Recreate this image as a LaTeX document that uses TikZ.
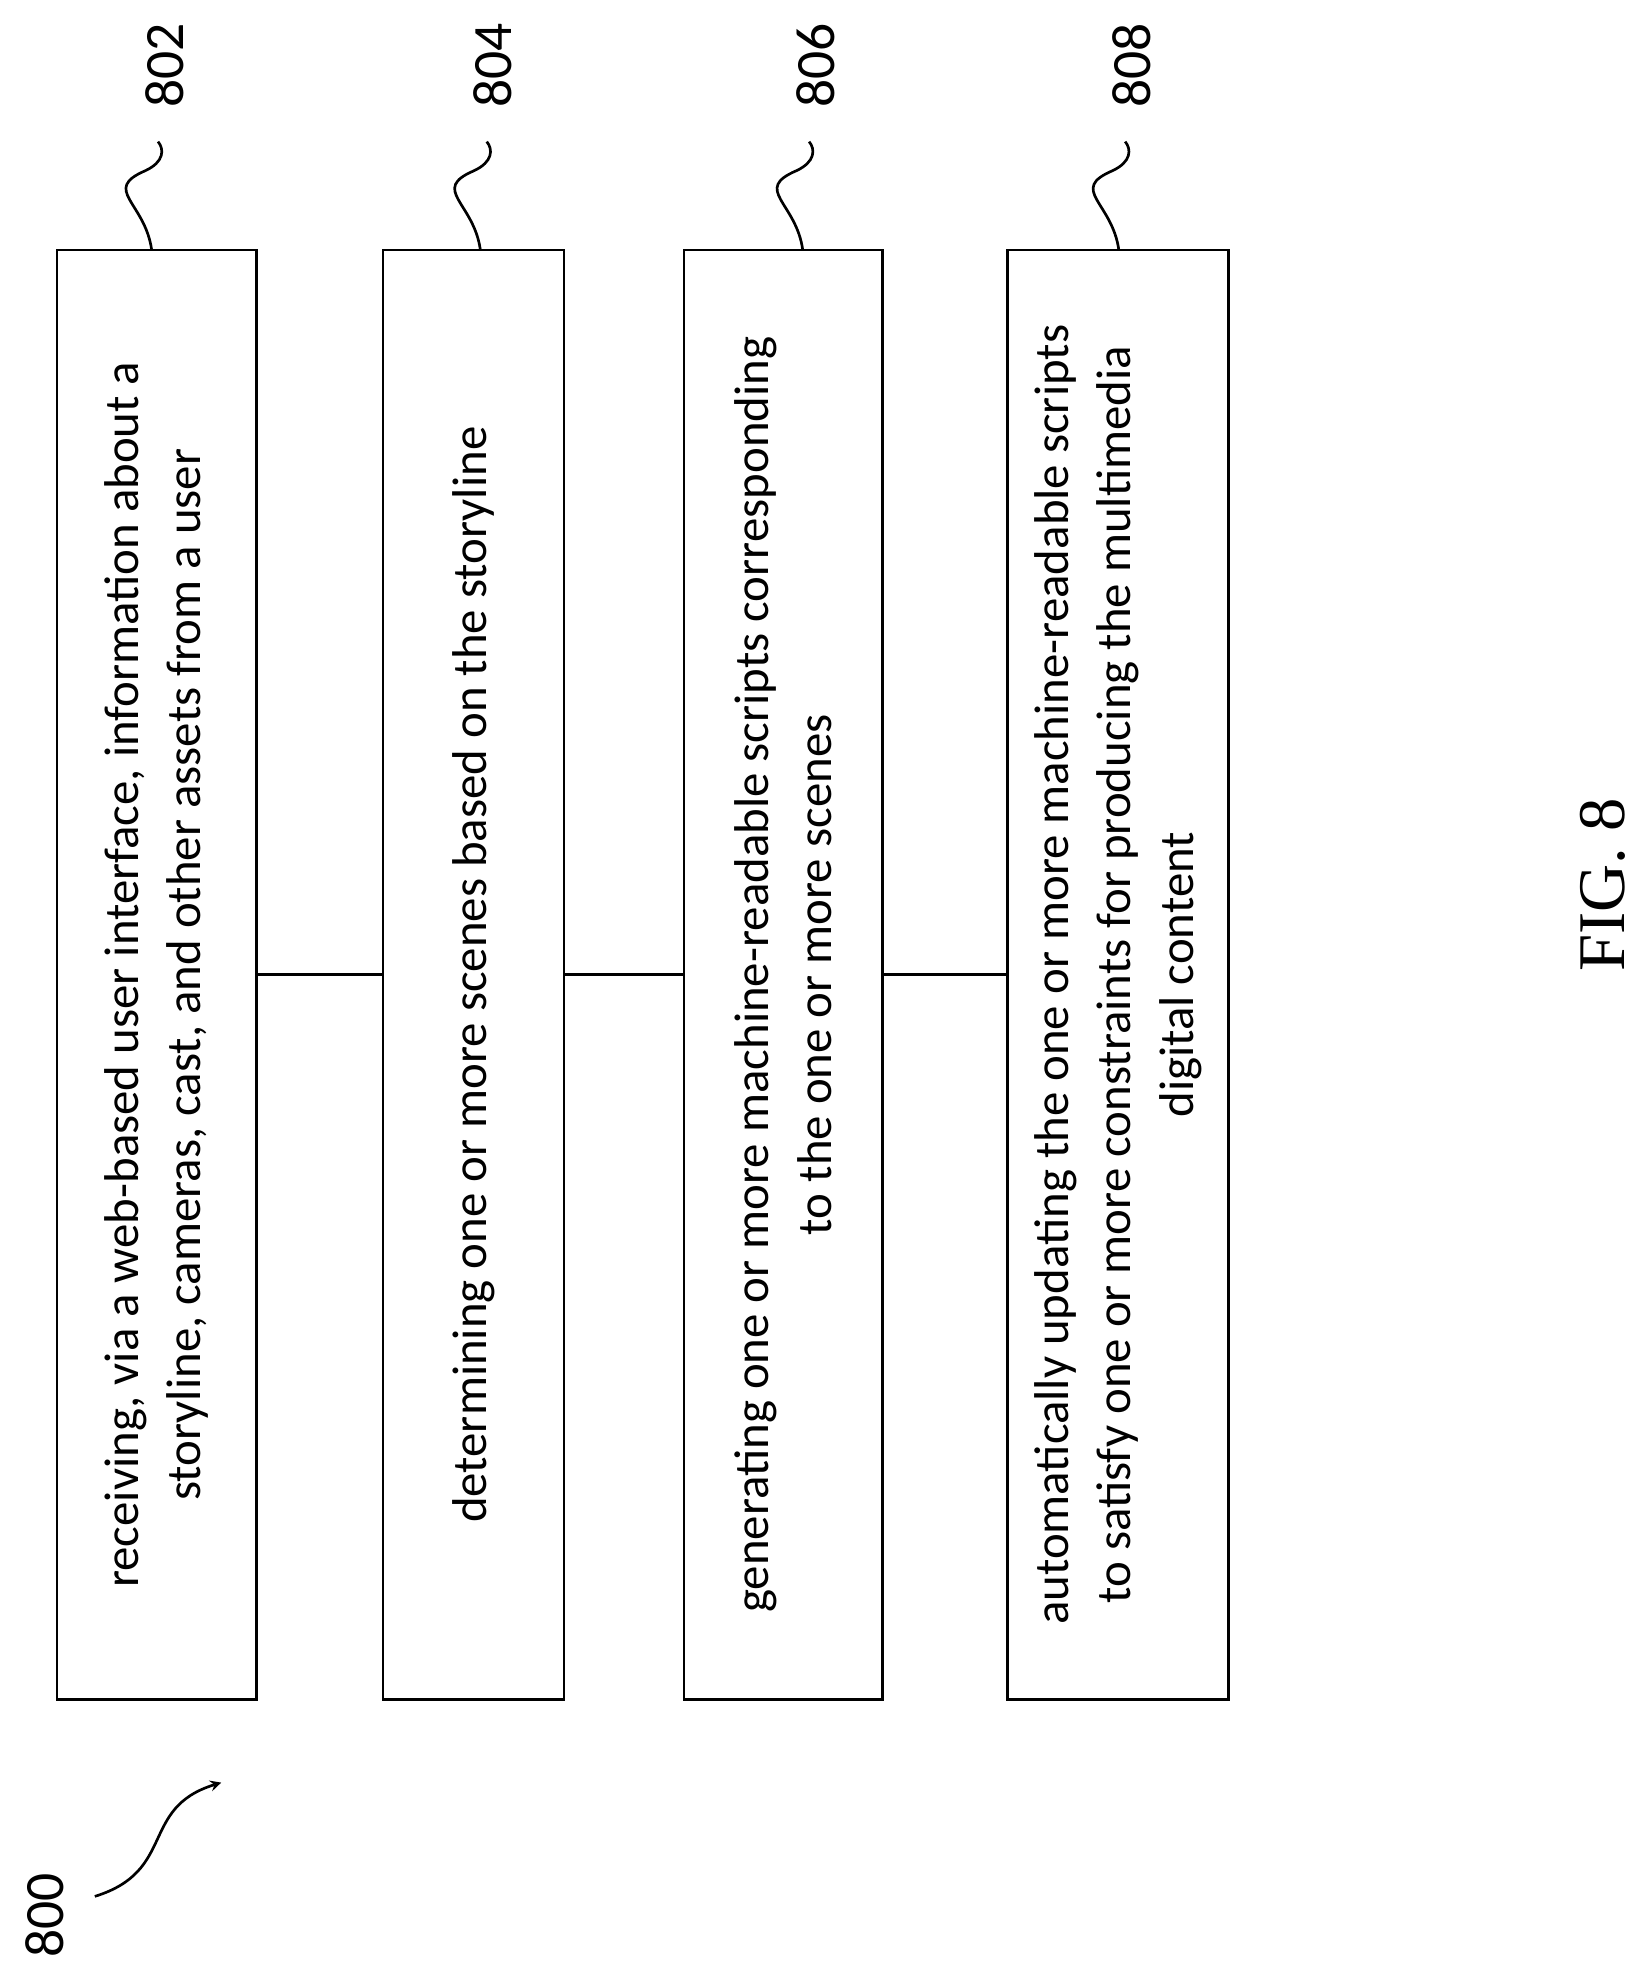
\documentclass[tikz,border=0pt]{standalone}
\usepackage{fontspec}
\setmainfont{Carlito}
\newfontfamily\figfont{Liberation Serif}
\usetikzlibrary{positioning}
\tikzset{stepbox/.style = {draw, line width=1.2pt, rotate=90, minimum width=22.94cm, align=center, inner sep=0pt, font=\fontsize{22}{28}\selectfont}}
\tikzset{reflabel/.style = {rotate=90, font=\fontsize{25}{28}\selectfont, inner sep=1pt}}
\tikzset{squiggle/.style = {line width=1.2pt}}
\begin{document}
\begin{tikzpicture}[x=0.02cm,y=-0.02cm]
\useasboundingbox (0,0) rectangle (1300,1563);
% boxes
\node[stepbox, minimum height=3.16cm] (b802) at (124,771) {receiving, via a web-based user interface, information about a\\storyline, cameras, cast, and other assets from a user};
\node[stepbox, minimum height=2.86cm] (b804) at (374.5,771) {determining one or more scenes based on the storyline};
\node[stepbox, minimum height=3.14cm] (b806) at (619.5,771) {generating one or more machine-readable scripts corresponding\\to the one or more scenes};
\node[stepbox, minimum height=3.5cm] (b808) at (884.5,771) {automatically updating the one or more machine-readable scripts\\to satisfy one or more constraints for producing the multimedia\\digital content};
\draw[line width=1.2pt] (b802.south) -- (b804.north);
\draw[line width=1.2pt] (b804.south) -- (b806.north);
\draw[line width=1.2pt] (b806.south) -- (b808.north);
% reference numerals
\foreach \n/\x in {802/125,804/385,806/640,808/890}{
	\node[reflabel] (l\n) at (\x+5,52) {\n};
	\draw[squiggle] (\x-5,198) .. controls (\x-10,160) and (\x-45,150) .. (\x-10,135) .. controls (\x+5,128) and (\x+5,118) .. (\x,112);
	}
\node[reflabel] (l800) at (35,1515) {800};
\draw[squiggle,-stealth] (75,1500) .. controls (140,1480) and (110,1430) .. (175,1410);
\node[rotate=90, font=\figfont\fontsize{30}{34}\selectfont] (fig) at (1268,700) {FIG. 8};
\end{tikzpicture}
\end{document}
